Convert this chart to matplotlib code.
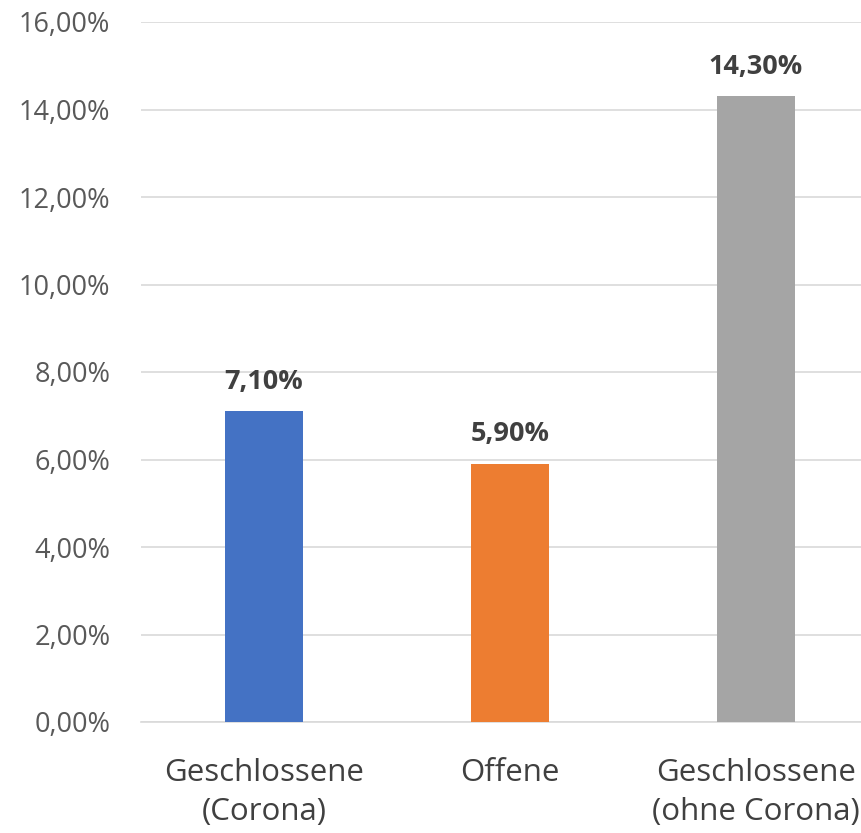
import matplotlib
matplotlib.use('Agg')
import matplotlib.pyplot as plt
from matplotlib.ticker import FuncFormatter

categories = ['Geschlossene\n(Corona)', 'Offene', 'Geschlossene\n(ohne Corona)']
values = [7.10, 5.90, 14.30]
colors = ['#4472C4', '#ED7D31', '#A5A5A5']

plt.rcParams['font.family'] = ['Open Sans', 'DejaVu Sans']

fig = plt.figure(figsize=(8.61, 8.33), dpi=100)
ax = fig.add_axes([141 / 861, 111 / 833, 738 / 861, 700 / 833])

x = range(len(categories))
bars = ax.bar(x, values, width=0.317, color=colors, zorder=3)

for b, v in zip(bars, values):
    ax.text(b.get_x() + b.get_width() / 2, v + 0.38, f'{v:.2f}%'.replace('.', ','),
            ha='center', va='bottom', fontsize=19.5, fontweight='bold', color='#404040')

ax.set_xlim(-0.5, 2.5)
ax.set_ylim(0, 16)
ax.set_yticks(range(0, 17, 2))
ax.yaxis.set_major_formatter(FuncFormatter(lambda v, p: f'{v:.2f}%'.replace('.', ',')))
ax.set_xticks(list(x))
ax.set_xticklabels(categories, linespacing=1.4)
ax.grid(axis='y', color='#D9D9D9', linewidth=1.2, zorder=0)
for s in ['top', 'right', 'left']:
    ax.spines[s].set_visible(False)
ax.spines['bottom'].set_color('#D9D9D9')
ax.spines['bottom'].set_linewidth(1.2)
ax.tick_params(axis='y', length=0, labelsize=19.5, colors='#595959', pad=22)
ax.tick_params(axis='x', length=0, labelsize=22.5, colors='#404040', pad=26)

fig.savefig('out.png', dpi=100)
